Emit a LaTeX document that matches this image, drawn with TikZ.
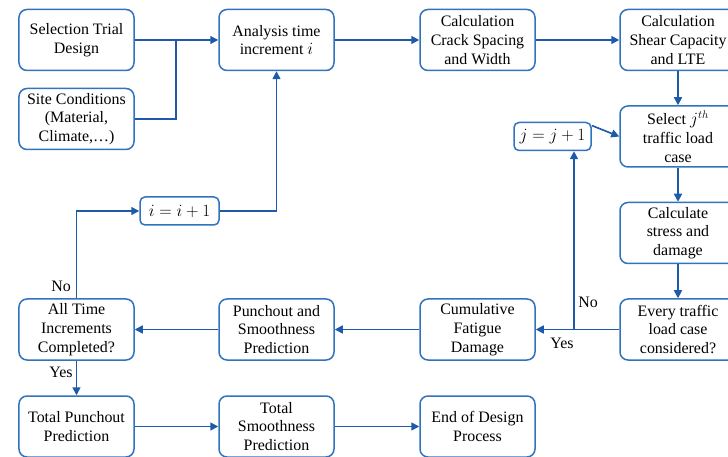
\documentclass[tikz,border=0pt]{standalone}
\usepackage{fontspec}
\setmainfont{Liberation Serif}
\usetikzlibrary{arrows.meta,calc}
\definecolor{bordc}{RGB}{50,115,190}
\definecolor{linec}{RGB}{30,90,170}
\begin{document}
\begin{tikzpicture}[x=1bp,y=-1bp,
  box/.style={draw=bordc,line width=1.5bp,rounded corners=8bp,minimum width=115bp,minimum height=61bp,align=center,inner sep=1bp,font=\fontsize{16}{18.8}\selectfont,fill=white},
  sbox/.style={draw=bordc,line width=1.5bp,rounded corners=5bp,minimum height=28bp,inner sep=1bp,align=center,font=\fontsize{16.5}{19}\selectfont,fill=white},
  conn/.style={draw=linec,line width=1.6bp},
  arr/.style={conn,-{Triangle[length=8bp,width=8bp]}},
  lab/.style={font=\fontsize{16}{18.8}\selectfont,inner sep=0pt}]
\clip (0,0) rectangle (728,457);
\useasboundingbox (0,0) rectangle (728,457);
\fill[white] (0,0) rectangle (728,457);

\node[box] (sel) at (76.5,40) {Selection Trial\\Design};
\node[box] (site) at (76.5,119) {Site Conditions\\(Material,\\Climate,\dots)};
\node[box] (ana) at (276.5,40) {Analysis time\\increment $i$};
\node[box] (crack) at (477.5,40) {Calculation\\Crack Spacing\\and Width};
\node[box,minimum width=116bp] (shear) at (678,40) {Calculation\\Shear Capacity\\and LTE};
\node[box,minimum width=116bp] (selj) at (678,136.5) {Select $j^{th}$\\traffic load\\case};
\node[box,minimum width=116bp] (stress) at (678,233) {Calculate\\stress and\\damage};
\node[box,minimum width=116bp] (every) at (678,329.5) {Every traffic\\load case\\considered?};
\node[box] (cum) at (477.5,329.5) {Cumulative\\Fatigue\\Damage};
\node[box] (pun) at (276.5,329.5) {Punchout and\\Smoothness\\Prediction};
\node[box] (all) at (76.5,329.5) {All Time\\Increments\\Completed?};
\node[box] (tp) at (76.5,426.5) {Total Punchout\\Prediction};
\node[box] (ts) at (276.5,426.5) {Total\\Smoothness\\Prediction};
\node[box] (end) at (477.5,426.5) {End of Design\\Process};
\node[sbox,minimum width=77bp] (jbox) at (552.5,136.5) {$j=j+1$};
\node[sbox,minimum width=79bp] (ibox) at (179.5,211) {$i=i+1$};

\coordinate (m) at (176,40);
\coordinate (yj) at (574,329.5);

\draw[conn] (sel.east) -- (m);
\draw[conn] (site.east) -| (m);
\draw[arr] (m) -- (ana.west);
\draw[arr] (ana) -- (crack);
\draw[arr] (crack) -- (shear);
\draw[arr] (shear) -- (selj);
\draw[arr] (selj) -- (stress);
\draw[arr] (stress) -- (every);
\draw[arr] (every.west) -- (cum.east);
\draw[arr] (yj) -- (yj |- jbox.south);
\draw[arr] ($(jbox.east)+(0,-11)$) -- (selj.west);
\draw[arr] (cum) -- (pun);
\draw[arr] (pun) -- (all);
\draw[arr] (all.north) |- (ibox.west);
\draw[arr] (ibox.east) -| (ana.south);
\draw[arr] (all) -- (tp);
\draw[arr] (tp) -- (ts);
\draw[arr] (ts) -- (end);

\node[lab] at (61,286) {No};
\node[lab] at (61,372) {Yes};
\node[lab] at (588,302) {No};
\node[lab] at (562,343) {Yes};
\end{tikzpicture}
\end{document}
